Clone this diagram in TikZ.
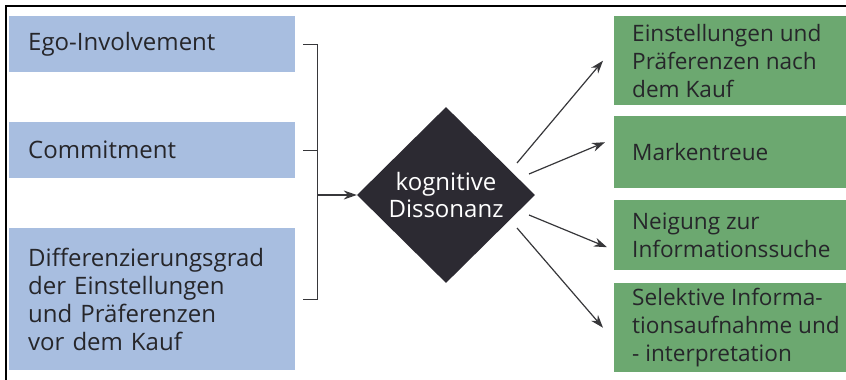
\documentclass[tikz,border=0pt]{standalone}
\usepackage{fontspec}
\setmainfont{Open Sans}
\usetikzlibrary{arrows.meta,positioning,shapes.geometric}

\definecolor{boxBlue}{RGB}{168,190,224}
\definecolor{boxGreen}{RGB}{108,168,112}
\definecolor{diaColor}{RGB}{44,42,50}
\definecolor{textColor}{RGB}{38,38,42}
\definecolor{lineColor}{RGB}{55,55,58}

\newcommand{\boxfont}{\fontsize{24}{28}\selectfont}
\newcommand{\resfont}{\fontsize{22.6}{28}\selectfont}

\begin{document}
\begin{tikzpicture}[x=1pt,y=-1pt,
  bluebox/.style={fill=boxBlue, anchor=north west, minimum width=286, text width=248,
    inner xsep=19, inner ysep=0, align=left, text=textColor, font=\boxfont},
  greenbox/.style={fill=boxGreen, anchor=north west, minimum width=232, inner sep=0},
  greentext/.style={inner sep=0, align=left, text=textColor, font=\resfont},
  conn/.style={draw=lineColor, line width=1.2pt},
  arr/.style={conn, -{Stealth[length=13pt,width=9pt]}}]
\useasboundingbox (0,0) rectangle (846,380);

% frame
\draw[line width=2pt] (6,380) -- (6,6) -- (846,6);

% influencing factors
\node[bluebox, minimum height=56] (ego) at (9,16) {Ego-Involvement};
\node[bluebox, minimum height=56] (commit) at (9,122) {Commitment};
\node[bluebox, minimum height=142] (diff) at (9,228)
  {Differenzierungsgrad\\der Einstellungen\\und Präferenzen\\vor dem Kauf};

% dissonance
\node[diamond, aspect=1, fill=diaColor, minimum width=178, minimum height=176, inner sep=0,
  text=white, align=center, font=\fontsize{24}{27}\selectfont] (kd) at (446,195)
  {kognitive\\Dissonanz};

% consequences
\node[greenbox, minimum height=89] (einstbox) at (614,16) {};
\node[greenbox, minimum height=72] (markbox) at (614,116) {};
\node[greenbox, minimum height=70] (neigbox) at (614,200) {};
\node[greenbox, minimum height=89] (selbox) at (614,283) {};
\node[greentext, right=18pt of einstbox.west] (einst)
  {Einstellungen und\\Präferenzen nach\\dem Kauf};
\node[greentext, right=18pt of markbox.west] (mark) {Markentreue};
\node[greentext, right=18pt of neigbox.west] (neig) {Neigung zur\\Informationssuche};
\node[greentext, right=18pt of selbox.west] (sel)
  {Selektive Informa-\\tionsaufnahme und\\- interpretation};

% bracket
\coordinate (bar) at ([xshift=22]diff.east |- kd.west);
\draw[conn] ([xshift=8]ego.east) -| ([xshift=22]diff.east) -- ([xshift=8]diff.east);
\draw[conn] ([xshift=8]commit.east) -- ([xshift=22]commit.east);
\draw[arr] (bar) -- (kd.west);

% outgoing arrows
\draw[arr] ([shift={(71,-32)}]kd.center) -- ([xshift=-11]einstbox.west);
\draw[arr] ([shift={(83,-21)}]kd.center) -- ([shift={(-9,-10)}]markbox.west);
\draw[arr] ([shift={(83,20)}]kd.center) -- ([shift={(-7,12)}]neigbox.west);
\draw[arr] ([shift={(71,33)}]kd.center) -- ([xshift=-11]selbox.west);
\end{tikzpicture}
\end{document}
